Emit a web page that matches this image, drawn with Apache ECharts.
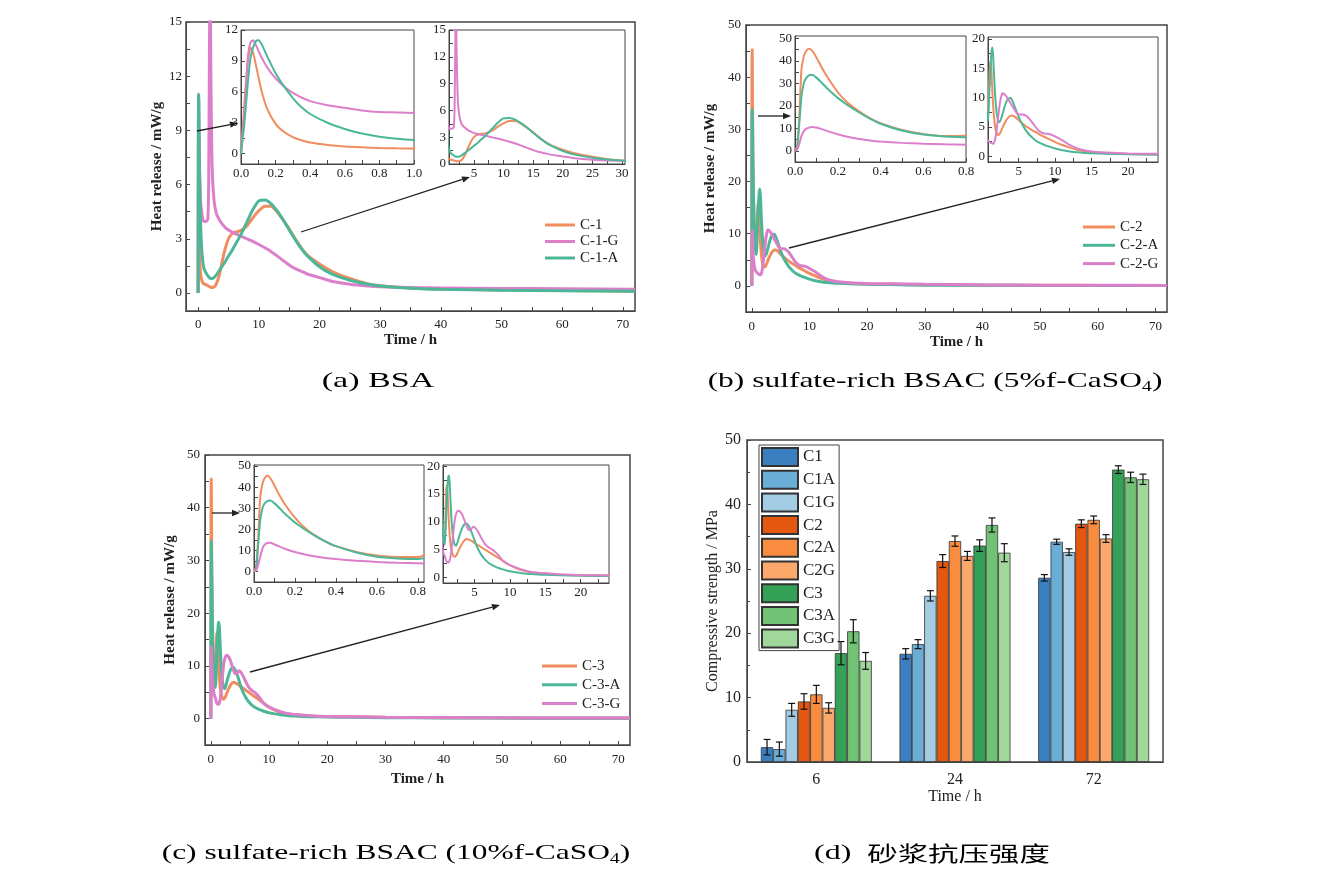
<!DOCTYPE html>
<html><head><meta charset="utf-8">
<script src="https://cdn.jsdelivr.net/npm/echarts@6/dist/echarts.min.js"></script>
<style>html,body{margin:0;padding:0;background:#fff}#c{width:1319px;height:880px}</style>
</head><body><div id="c"></div>
<script>
// ---------------- DATA ----------------
// (a) BSA
const aT = [0, 0.02, 0.04, 0.055, 0.07, 0.085, 0.1, 0.12, 0.15, 0.2,
  0.25, 0.3, 0.35, 0.4, 0.5, 0.6, 0.7, 0.8, 0.9, 1.0,
  1.3, 1.6, 1.75, 1.9, 2.0, 2.1, 2.3, 2.6, 3, 3.5,
  4, 4.5, 5, 5.5, 6, 7, 8, 9, 10, 11,
  12, 13, 14, 15, 16, 17, 18, 20, 22, 25,
  28, 30, 35, 40, 50, 60, 72];
const aC1 = [0, 5, 9, 10.3, 9.8, 8.7, 7.5, 6.0, 4.4, 2.9,
  2.1, 1.6, 1.3, 1.08, 0.85, 0.7, 0.62, 0.56, 0.52, 0.5,
  0.45, 0.4, 0.37, 0.35, 0.33, 0.31, 0.3, 0.32, 0.5, 1.0,
  1.8, 2.5, 3.0, 3.25, 3.35, 3.45, 3.7, 4.15, 4.55, 4.8,
  4.8, 4.5, 4.05, 3.55, 3.0, 2.5, 2.1, 1.6, 1.2, 0.8,
  0.5, 0.4, 0.28, 0.22, 0.16, 0.13, 0.1];
const aC1G = [0, 4, 9.5, 10.8, 11.0, 10.6, 10.0, 9.3, 8.4, 7.3,
  6.5, 5.9, 5.45, 5.1, 4.7, 4.45, 4.2, 4.05, 4.0, 3.95,
  3.95, 4.1, 6.5, 15.5, 16.5, 12, 7.0, 5.2, 4.4, 4.05,
  3.8, 3.62, 3.48, 3.38, 3.3, 3.15, 3.0, 2.85, 2.68, 2.5,
  2.3, 2.05, 1.8, 1.55, 1.35, 1.2, 1.05, 0.85, 0.65, 0.48,
  0.38, 0.34, 0.3, 0.28, 0.25, 0.23, 0.2];
const aC1A = [0, 3, 7, 9.3, 10.3, 10.9, 11.0, 10.6, 9.5, 7.8,
  6.5, 5.4, 4.5, 3.85, 3.0, 2.4, 1.95, 1.65, 1.45, 1.32,
  1.1, 0.95, 0.88, 0.83, 0.8, 0.8, 0.8, 0.85, 1.0, 1.25,
  1.5, 1.75, 2.05, 2.3, 2.6, 3.2, 3.9, 4.6, 5.1, 5.15,
  4.95, 4.55, 4.05, 3.5, 2.95, 2.45, 2.05, 1.45, 1.05, 0.7,
  0.48, 0.38, 0.26, 0.2, 0.15, 0.12, 0.1];

// (b) 5% f-CaSO4
const bT = [0, 0.01, 0.02, 0.03, 0.04, 0.05, 0.065, 0.08, 0.1, 0.125,
  0.15, 0.2, 0.25, 0.3, 0.35, 0.4, 0.5, 0.6, 0.7, 0.8,
  0.9, 1.0, 1.1, 1.2, 1.3, 1.4, 1.5, 1.6, 1.8, 2.0,
  2.2, 2.4, 2.6, 2.8, 3.0, 3.3, 3.6, 3.9, 4.2, 4.6,
  5.0, 5.5, 6.0, 6.5, 7.0, 7.5, 8.0, 8.5, 9.0, 9.5,
  10, 11, 12, 13, 14, 15, 17, 20, 24, 30,
  40, 50, 60, 72];
const bC2 = [0, 2, 15, 36, 41.5, 44, 45.3, 44.5, 41.5, 37,
  33, 26, 21, 17.5, 14.5, 12.2, 9.2, 7.5, 6.6, 6.7,
  10, 14, 16.2, 15.8, 13.5, 11, 8.8, 7.0, 4.8, 3.9,
  3.6, 3.8, 4.3, 4.9, 5.4, 6.1, 6.6, 6.9, 6.9, 6.6,
  6.1, 5.6, 5.1, 4.7, 4.3, 4.0, 3.6, 3.3, 3.0, 2.7,
  2.4, 1.9, 1.45, 1.1, 0.85, 0.7, 0.5, 0.38, 0.3, 0.2,
  0.15, 0.12, 0.1, 0.08];
const bC2A = [0, 1, 12, 24, 29.5, 32, 33.5, 33.8, 32.5, 30.2,
  27.8, 23.5, 20, 17, 14.3, 12, 9, 7.2, 6.3, 6.0,
  8.5, 11.5, 14, 16.3, 18, 18.5, 17.2, 14.5, 10, 7.3,
  6.0, 5.8, 6.4, 7.2, 8.1, 9.2, 9.8, 9.9, 9.3, 8.0,
  6.7, 5.4, 4.4, 3.6, 3.0, 2.5, 2.2, 1.9, 1.7, 1.5,
  1.3, 1.0, 0.8, 0.65, 0.55, 0.5, 0.4, 0.3, 0.25, 0.15,
  0.12, 0.1, 0.08, 0.06];
const bC2G = [0, 0.5, 3, 6.5, 8.5, 9.6, 10.3, 10.6, 10.3, 9.6,
  8.8, 7.3, 6.1, 5.2, 4.6, 4.1, 3.5, 3.1, 2.85, 2.7,
  2.55, 2.45, 2.35, 2.25, 2.2, 2.15, 2.1, 2.2, 3.0, 4.6,
  6.8, 8.8, 10.1, 10.7, 10.6, 10.2, 9.6, 9.0, 8.4, 7.6,
  7.1, 7.1, 6.9, 6.3, 5.5, 4.7, 4.1, 3.85, 3.8, 3.65,
  3.35, 2.7, 1.9, 1.3, 1.0, 0.8, 0.6, 0.45, 0.4, 0.3,
  0.2, 0.15, 0.12, 0.1];

// (c) 10% f-CaSO4
const cT = [0, 0.01, 0.02, 0.03, 0.04, 0.05, 0.065, 0.08, 0.1, 0.125,
  0.15, 0.2, 0.25, 0.3, 0.35, 0.4, 0.5, 0.6, 0.7, 0.8,
  0.9, 1.0, 1.1, 1.2, 1.3, 1.4, 1.5, 1.6, 1.8, 2.0,
  2.2, 2.4, 2.6, 2.8, 3.0, 3.3, 3.6, 3.9, 4.2, 4.5,
  4.8, 5.1, 5.5, 6.0, 6.5, 7.0, 7.5, 8.0, 8.5, 9.0,
  9.5, 10, 11, 12, 13, 14, 15, 17, 20, 24,
  30, 40, 50, 60, 72];
const cC3 = [0, 2, 15, 35, 41, 44, 45.5, 44.2, 40.8, 36,
  32, 25.5, 20.5, 17, 14.2, 12, 9.3, 7.6, 6.9, 6.8,
  11, 15.5, 16.5, 15, 12.2, 9.5, 7.5, 6.0, 4.6, 3.9,
  3.7, 3.9, 4.4, 5.0, 5.5, 6.2, 6.7, 6.9, 6.8, 6.6,
  6.4, 6.1, 5.8, 5.4, 5.0, 4.6, 4.2, 3.8, 3.4, 3.0,
  2.6, 2.2, 1.6, 1.2, 0.95, 0.8, 0.7, 0.5, 0.4, 0.35,
  0.25, 0.18, 0.14, 0.12, 0.1];
const cC3A = [0, 1, 12, 24, 29.5, 32, 33.4, 33.7, 32.3, 30,
  27.5, 23.2, 19.8, 16.8, 14.2, 12, 9, 7, 6.2, 5.9,
  8, 11, 14, 16.5, 18.1, 18.3, 16.8, 14, 9.5, 7.0,
  5.9, 5.7, 6.3, 7.2, 8.0, 9.0, 9.6, 9.7, 9.2, 8.4,
  7.4, 6.3, 5.1, 4.0, 3.2, 2.6, 2.2, 1.9, 1.65, 1.45,
  1.25, 1.1, 0.9, 0.72, 0.6, 0.52, 0.46, 0.38, 0.3, 0.25,
  0.18, 0.12, 0.1, 0.08, 0.06];
const cC3G = [0, 0.5, 3, 7, 10.5, 12.5, 13.5, 13.6, 12.8, 11.8,
  10.8, 9.2, 8, 7.1, 6.4, 5.9, 5.1, 4.5, 4.1, 3.9,
  3.4, 3.0, 2.85, 2.75, 2.7, 2.8, 3.1, 3.6, 5.5, 8.0,
  10.2, 11.4, 11.9, 12.0, 11.8, 11.2, 10.2, 9.2, 8.5, 8.6,
  9.1, 8.9, 8.2, 7.0, 6.0, 5.4, 5.0, 4.5, 3.8, 3.0,
  2.5, 2.2, 1.7, 1.3, 1.0, 0.85, 0.75, 0.55, 0.4, 0.35,
  0.25, 0.2, 0.15, 0.12, 0.1];

// (d) compressive strength
const dCats = ['6', '24', '72'];
const dNames = ['C1', 'C1A', 'C1G', 'C2', 'C2A', 'C2G', 'C3', 'C3A', 'C3G'];
const dC1 = [2.3, 16.8, 28.6],  dC1Err = [1.2, 0.8, 0.5];
const dC1A = [2.0, 18.3, 34.2], dC1AErr = [1.1, 0.7, 0.4];
const dC1G = [8.1, 25.8, 32.6], dC1GErr = [1.0, 0.8, 0.5];
const dC2 = [9.4, 31.2, 37.0],  dC2Err = [1.2, 1.0, 0.6];
const dC2A = [10.5, 34.3, 37.6], dC2AErr = [1.4, 0.8, 0.6];
const dC2G = [8.4, 32.0, 34.7], dC2GErr = [0.8, 0.7, 0.6];
const dC3 = [16.9, 33.6, 45.4], dC3Err = [1.8, 0.9, 0.6];
const dC3A = [20.3, 36.8, 44.2], dC3AErr = [1.8, 1.1, 0.8];
const dC3G = [15.7, 32.5, 43.9], dC3GErr = [1.3, 1.4, 0.8];

// tick labels / tick positions
const tMainX = [0, 10, 20, 30, 40, 50, 60, 70];
const tMainXTick = [0, 5, 10, 15, 20, 25, 30, 35, 40, 45, 50, 55, 60, 65, 70];
const tAY = [0, 3, 6, 9, 12, 15];
const tAYTick = [0, 1.5, 3, 4.5, 6, 7.5, 9, 10.5, 12, 13.5, 15];
const tA1X = [0, 0.2, 0.4, 0.6, 0.8, 1.0];
const tA1XTick = [0, 0.1, 0.2, 0.3, 0.4, 0.5, 0.6, 0.7, 0.8, 0.9, 1.0];
const tA1Y = [0, 3, 6, 9, 12];
const tA1YTick = [0, 1.5, 3, 4.5, 6, 7.5, 9, 10.5, 12];
const tA2X = [5, 10, 15, 20, 25, 30];
const tA2XTick = [2.5, 5, 7.5, 10, 12.5, 15, 17.5, 20, 22.5, 25, 27.5, 30];
const tBY = [0, 10, 20, 30, 40, 50];
const tBYTick = [0, 5, 10, 15, 20, 25, 30, 35, 40, 45, 50];
const tB1X = [0, 0.2, 0.4, 0.6, 0.8];
const tB1XTick = [0, 0.1, 0.2, 0.3, 0.4, 0.5, 0.6, 0.7, 0.8];
const tB2X = [5, 10, 15, 20];
const tB2XTick = [2.5, 5, 7.5, 10, 12.5, 15, 17.5, 20, 22.5];
const tB2Y = [0, 5, 10, 15, 20];
const tB2YTick = [0, 2.5, 5, 7.5, 10, 12.5, 15, 17.5, 20];

// ---------------- STYLE / LAYOUT ----------------
const FONT = 'Liberation Serif';
const C_OR = '#f08c5e', C_PK = '#dc7fcb', C_TL = '#4cb798';
const dColors = ['#3a7fbf', '#6aaed8', '#a3cbe3', '#e4570f', '#f98c3f', '#fba86b', '#34a157', '#72c275', '#a2d79b'];

const grids = [
  {left: 186, top: 22, width: 449, height: 289},   // a main
  {left: 241, top: 30, width: 173, height: 134},   // a inset 1
  {left: 449, top: 30, width: 176, height: 134},   // a inset 2
  {left: 746, top: 25, width: 421, height: 287},   // b main
  {left: 795, top: 36, width: 171, height: 126},   // b inset 1
  {left: 988, top: 37, width: 170, height: 125},   // b inset 2
  {left: 205, top: 455, width: 425, height: 290},  // c main
  {left: 254, top: 465, width: 170, height: 117},  // c inset 1
  {left: 443, top: 465, width: 166, height: 118},  // c inset 2
  {left: 747, top: 440, width: 416, height: 322}   // d bars
].map((g, i) => Object.assign({
  show: true, borderColor: '#444',
  borderWidth: [0, 3, 6, 9].includes(i) ? 1.5 : 1,
  backgroundColor: [0, 3, 6, 9].includes(i) ? 'transparent' : '#fff',
  containLabel: false
}, g));

function vAxis(gi, min, max, labels, ticks, fs, fmt, margin, extra) {
  return Object.assign({
    type: 'value', gridIndex: gi, min: min, max: max,
    axisLine: {show: true, onZero: false, lineStyle: {color: '#444', width: 1}},
    axisTick: {show: true, inside: true, length: 4, customValues: ticks, lineStyle: {color: '#444'}},
    axisLabel: Object.assign({customValues: labels, fontFamily: FONT, fontSize: fs, color: '#222', margin: margin},
      fmt ? {formatter: fmt} : {}),
    splitLine: {show: false}
  }, extra || {});
}
const f1 = v => Number(v).toFixed(1);
const xName = (gap) => ({name: 'Time / h', nameLocation: 'middle', nameGap: gap,
  nameTextStyle: {fontFamily: FONT, fontSize: 15, fontWeight: 'bold', color: '#222'}});
const yName = (gap) => ({name: 'Heat release / mW/g', nameLocation: 'middle', nameGap: gap,
  nameTextStyle: {fontFamily: FONT, fontSize: 15, fontWeight: 'bold', color: '#222'}});

const xAxes = [
  vAxis(0, -2, 72, tMainX, tMainXTick, 13, null, 7, xName(22)),
  vAxis(1, 0, 1, tA1X, tA1XTick, 13, f1, 3),
  vAxis(2, 0.8, 30.5, tA2X, tA2XTick, 13, null, 3),
  vAxis(3, -1, 72, tMainX, tMainXTick, 13, null, 8, xName(23)),
  vAxis(4, 0, 0.8, tB1X, tB1XTick, 13, f1, 3),
  vAxis(5, 0.8, 24.1, tB2X, tB2XTick, 13, null, 3),
  vAxis(6, -1, 72, tMainX, tMainXTick, 13, null, 8, xName(27)),
  vAxis(7, 0, 0.83, tB1X, tB1XTick, 13, f1, 3),
  vAxis(8, 0.55, 24, tB2X, tB2XTick, 13, null, 3),
  {type: 'category', gridIndex: 9, data: dCats,
   axisLine: {show: true, lineStyle: {color: '#444', width: 1}},
   axisTick: {show: true, inside: true, alignWithLabel: true, length: 4, lineStyle: {color: '#444'}},
   axisLabel: {fontFamily: FONT, fontSize: 16, color: '#222', margin: 10},
   name: 'Time / h', nameLocation: 'middle', nameGap: 25,
   nameTextStyle: {fontFamily: FONT, fontSize: 16, color: '#222'}}
];
const yAxes = [
  vAxis(0, -1, 15, tAY, tAYTick, 13, null, 4, yName(20)),
  vAxis(1, -1, 12, tA1Y, tA1YTick, 13, null, 3),
  vAxis(2, 0, 15, tAY, tAYTick, 13, null, 3),
  vAxis(3, -5, 50, tBY, tBYTick, 13, null, 5, yName(28)),
  vAxis(4, -5, 51, tBY, tBYTick, 13, null, 3),
  vAxis(5, -1, 20.3, tB2Y, tB2YTick, 13, null, 3),
  vAxis(6, -5, 50, tBY, tBYTick, 13, null, 5, yName(27)),
  vAxis(7, -5, 50.5, tBY, tBYTick, 13, null, 3),
  vAxis(8, -1, 20.2, tB2Y, tB2YTick, 13, null, 3),
  {type: 'value', gridIndex: 9, min: 0, max: 50, interval: 10,
   axisLine: {show: true, lineStyle: {color: '#444', width: 1}},
   axisTick: {show: true, inside: true, length: 4, lineStyle: {color: '#444'}},
   minorTick: {show: true, splitNumber: 2, length: 3, lineStyle: {color: '#444'}},
   axisLabel: {fontFamily: FONT, fontSize: 16, color: '#222', margin: 6},
   splitLine: {show: false},
   name: 'Compressive strength / MPa', nameLocation: 'middle', nameGap: 25,
   nameTextStyle: {fontFamily: FONT, fontSize: 16, color: '#222'}}
];

// ---------------- SERIES ----------------
const panels = [
  {t: aT, grids: [0, 1, 2], curves: [['C-1', aC1, C_OR], ['C-1-G', aC1G, C_PK], ['C-1-A', aC1A, C_TL]]},
  {t: bT, grids: [3, 4, 5], curves: [['C-2', bC2, C_OR], ['C-2-A', bC2A, C_TL], ['C-2-G', bC2G, C_PK]]},
  {t: cT, grids: [6, 7, 8], curves: [['C-3', cC3, C_OR], ['C-3-A', cC3A, C_TL], ['C-3-G', cC3G, C_PK]]}
];
const series = [];
panels.forEach(p => p.grids.forEach((g, k) => p.curves.forEach(c => {
  series.push({
    type: 'line', name: c[0], xAxisIndex: g, yAxisIndex: g,
    data: p.t.map((x, i) => [x, c[1][i]]),
    symbol: 'none', smooth: 0.2, clip: true,
    lineStyle: {color: c[2], width: k === 0 ? 3 : 2},
    itemStyle: {color: c[2]}, z: k === 0 ? 2 : 4, silent: true
  });
})));

const dVals = [dC1, dC1A, dC1G, dC2, dC2A, dC2G, dC3, dC3A, dC3G];
const dErrs = [dC1Err, dC1AErr, dC1GErr, dC2Err, dC2AErr, dC2GErr, dC3Err, dC3AErr, dC3GErr];
dNames.forEach((n, s) => series.push({
  type: 'bar', name: n, xAxisIndex: 9, yAxisIndex: 9, data: dVals[s],
  barGap: '0%', barCategoryGap: '20%',
  itemStyle: {color: dColors[s], borderColor: '#333', borderWidth: 0.8}
}));
const errData = [];
dVals.forEach((vals, s) => vals.forEach((v, ci) => errData.push([ci, s, v, dErrs[s][ci]])));
series.push({
  type: 'custom', xAxisIndex: 9, yAxisIndex: 9, data: errData, z: 10, silent: true,
  encode: {x: 0, y: 2},
  renderItem: function (params, api) {
    const ci = api.value(0), s = api.value(1), v = api.value(2), e = api.value(3);
    const band = api.size([1, 0])[0];
    const bw = band * 0.8 / 9;
    const cx = api.coord([ci, v])[0] + (s - 4) * bw;
    const yh = api.coord([ci, v + e])[1], yl = api.coord([ci, v - e])[1];
    const cw = bw * 0.28;
    const st = {stroke: '#111', lineWidth: 1.2};
    return {type: 'group', children: [
      {type: 'line', shape: {x1: cx, y1: yh, x2: cx, y2: yl}, style: st},
      {type: 'line', shape: {x1: cx - cw, y1: yh, x2: cx + cw, y2: yh}, style: st},
      {type: 'line', shape: {x1: cx - cw, y1: yl, x2: cx + cw, y2: yl}, style: st}
    ]};
  }
});

// ---------------- LEGENDS ----------------
const lineLegend = (names, left, top, gap, w) => ({
  data: names, orient: 'vertical', left: left, top: top, padding: 0,
  icon: 'rect', itemWidth: w, itemHeight: 3, itemGap: gap, selectedMode: false,
  textStyle: {fontFamily: FONT, fontSize: 15, lineHeight: 16, color: '#222'}
});
const legends = [
  lineLegend(['C-1', 'C-1-G', 'C-1-A'], 545, 217, 0.5, 30),
  lineLegend(['C-2', 'C-2-A', 'C-2-G'], 1083, 219, 2.3, 32),
  lineLegend(['C-3', 'C-3-A', 'C-3-G'], 542, 658, 2.8, 35),
  {data: dNames, orient: 'vertical', left: 759, top: 445, padding: [2, 4, 2, 2],
   icon: 'rect', itemWidth: 36, itemHeight: 18, itemGap: 2.7, selectedMode: false,
   borderColor: '#444', borderWidth: 1, backgroundColor: '#fff',
   textStyle: {fontFamily: FONT, fontSize: 17, lineHeight: 18, color: '#222'}}
];

// ---------------- ANNOTATIONS ----------------
function arrow(x1, y1, x2, y2) {
  const a = Math.atan2(y2 - y1, x2 - x1), L = 8, W = 3.2;
  const bx = x2 - L * Math.cos(a), by = y2 - L * Math.sin(a);
  return [
    {type: 'line', shape: {x1: x1, y1: y1, x2: bx, y2: by}, style: {stroke: '#222', lineWidth: 1.3}, z: 20},
    {type: 'polygon', shape: {points: [[x2, y2], [bx - W * Math.sin(a), by + W * Math.cos(a)], [bx + W * Math.sin(a), by - W * Math.cos(a)]]},
     style: {fill: '#222'}, z: 20}
  ];
}
const capRich = {
  n: {fontFamily: FONT, fontSize: 22, lineHeight: 26, color: '#555'},
  s: {fontFamily: FONT, fontSize: 14, lineHeight: 14, color: '#555', verticalAlign: 'bottom'},
  z: {fontFamily: 'Noto Sans CJK SC', fontSize: 21, lineHeight: 26, color: '#555'}
};
const caption = (x, y, txt, sx) => ({type: 'text', x: x, y: y, z: 20, scaleX: sx,
  style: {text: txt, rich: capRich, align: 'center', verticalAlign: 'middle'}});
const graphics = [].concat(
  arrow(197, 131, 238, 123),
  arrow(301, 232, 470, 177),
  arrow(758, 116, 791, 116),
  arrow(789, 248, 1060, 179),
  arrow(212, 513, 240, 513),
  arrow(250, 672, 500, 605),
  [caption(378, 381, '{n|(a) BSA}', 1.55),
   caption(935, 381, '{n|(b) sulfate-rich BSAC (5%f-CaSO}{s|4}{n|)}', 1.43),
   caption(396, 853, '{n|(c) sulfate-rich BSAC (10%f-CaSO}{s|4}{n|)}', 1.43),
   caption(932, 853, '{n|(d)  }{z|砂浆抗压强度}', 1.45)]
);

const chart = echarts.init(document.getElementById('c'), null, {renderer: 'canvas'});
chart.setOption({
  backgroundColor: '#fff',
  animation: false,
  grid: grids,
  xAxis: xAxes,
  yAxis: yAxes,
  legend: legends,
  series: series,
  graphic: graphics
});
</script>
</body></html>
